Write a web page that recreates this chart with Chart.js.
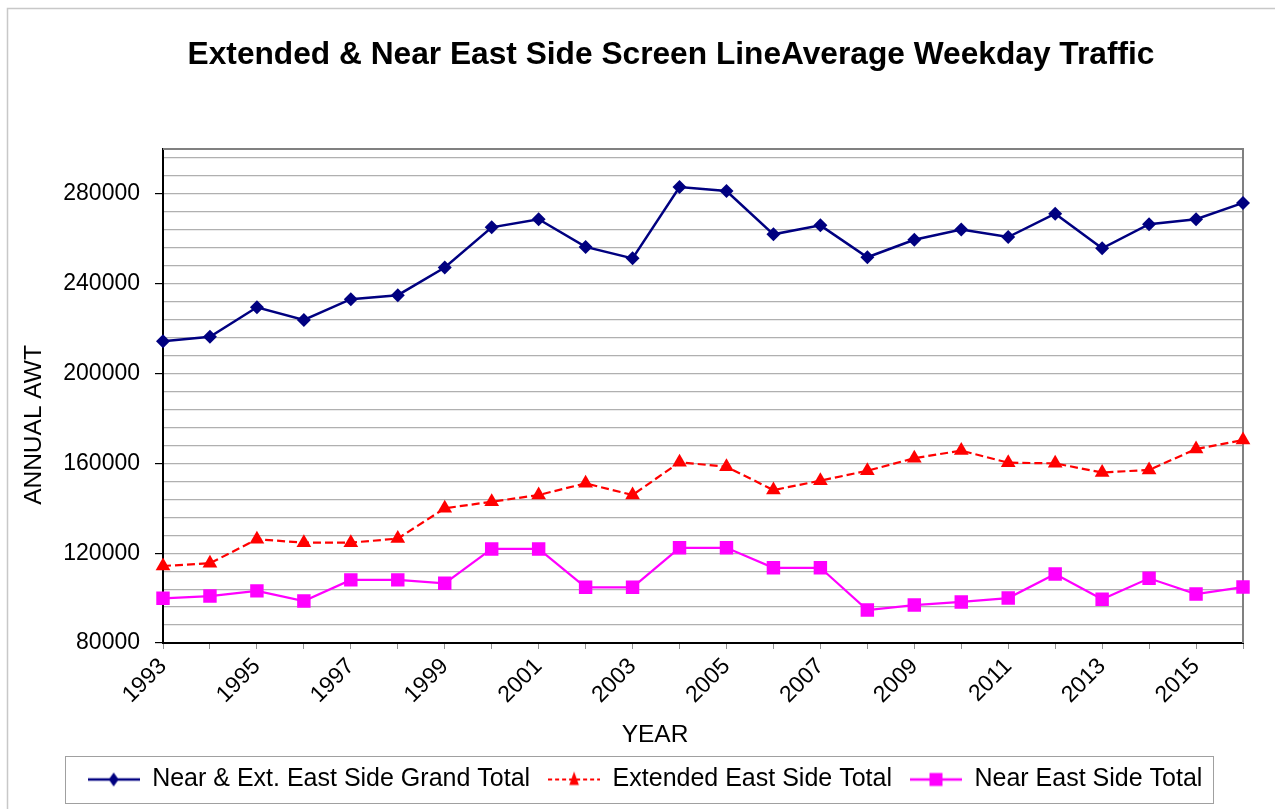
<!DOCTYPE html>
<html>
<head>
<meta charset="utf-8">
<script src="https://cdn.jsdelivr.net/npm/chart.js@4/dist/chart.umd.min.js"></script>
<style>
html,body{margin:0;padding:0;background:#fff;}
canvas{display:block;}
</style>
</head>
<body>
<canvas id="c" width="1275" height="809"></canvas>
<script>
const years = ['1993','1994','1995','1996','1997','1998','1999','2000','2001','2002','2003','2004','2005','2006','2007','2008','2009','2010','2011','2012','2013','2014','2015','2016'];
const grandTotal = [214400,216400,229500,223900,233100,234900,247200,265100,268700,256400,251300,283100,281300,262000,266000,251800,259600,264100,260800,271200,255800,266500,268700,276000];
const extendedTotal = [114300,115500,126200,124700,124700,126500,140000,142900,145900,151100,145900,160500,158500,148100,152300,156700,162300,165700,160300,160000,155900,157100,166400,170400];
const nearTotal = [99900,100900,103200,98700,108100,108100,106600,121900,121900,104800,104800,122400,122400,113500,113500,94700,96900,98300,100000,110700,99500,108800,101800,104900];
const yLabelValues = [80000,120000,160000,200000,240000,280000];
const yMin = 80000, yMax = 300000, yMinorStep = 8000;
const seriesNames = ['Near & Ext. East Side Grand Total','Extended East Side Total','Near East Side Total'];
const chartTitle = 'Extended & Near East Side Screen LineAverage Weekday Traffic';
const xTitle = 'YEAR';
const yTitle = 'ANNUAL AWT';

const FONT = "'Liberation Sans', Arial, sans-serif";

function sample(color, dash, style, r, lw) {
  const c = document.createElement('canvas');
  c.width = 52; c.height = 18;
  const g = c.getContext('2d');
  g.strokeStyle = color; g.lineWidth = lw;
  g.setLineDash(dash);
  g.beginPath(); g.moveTo(0, 9); g.lineTo(52, 9); g.stroke();
  g.setLineDash([]);
  g.fillStyle = color;
  g.beginPath();
  if (style === 'diamond') { g.moveTo(26, 9 - r); g.lineTo(26 + r*0.7, 9); g.lineTo(26, 9 + r); g.lineTo(26 - r*0.7, 9); }
  else if (style === 'triangle') { g.moveTo(26, 9 - r); g.lineTo(26 + r*0.6, 9 + r*0.7); g.lineTo(26 - r*0.6, 9 + r*0.7); }
  else { g.rect(26 - r, 9 - r, 2*r, 2*r); }
  g.closePath(); g.fill();
  return c;
}
const legendImgs = [
  sample('#000080', [], 'diamond', 7, 2.5),
  sample('#FF0000', [4,3], 'triangle', 8, 2),
  sample('#FF00FF', [], 'rect', 6.5, 2.5)
];

const framePlugin = {
  id: 'frame',
  beforeDraw(chart) {
    const ctx = chart.ctx;
    ctx.save();
    ctx.fillStyle = '#fff';
    ctx.fillRect(0, 0, chart.width, chart.height);
    ctx.strokeStyle = '#c8c8c8';
    ctx.lineWidth = 1.5;
    ctx.strokeRect(7.5, 8.5, 1400, 1000);
    ctx.restore();
  },
  beforeDatasetsDraw(chart) {
    const a = chart.chartArea, ctx = chart.ctx;
    ctx.save();
    ctx.strokeStyle = '#808080';
    ctx.lineWidth = 2;
    ctx.beginPath();
    ctx.moveTo(a.left, a.top); ctx.lineTo(a.right, a.top); ctx.lineTo(a.right, a.bottom);
    ctx.stroke();
    ctx.restore();
  },
  afterDraw(chart) {
    const ctx = chart.ctx;
    const a = chart.chartArea;
    ctx.save();
    ctx.fillStyle = '#000';
    ctx.textAlign = 'center';
    ctx.textBaseline = 'alphabetic';
    ctx.font = 'bold 31.7px ' + FONT;
    ctx.fillText(chartTitle, 671, 64);
    ctx.font = '24.5px ' + FONT;
    ctx.fillText(xTitle, (a.left + a.right) / 2 - 48, 742);
    ctx.translate(34, (a.top + a.bottom) / 2 + 29);
    ctx.rotate(-Math.PI / 2);
    ctx.textBaseline = 'middle';
    ctx.fillText(yTitle, 0, 0);
    ctx.restore();

    const lg = chart.legend;
    if (!lg || !lg.legendHitBoxes || !lg.legendHitBoxes.length) return;
    const hb = lg.legendHitBoxes;
    let l = Infinity, r = -Infinity, t = Infinity, b = -Infinity;
    hb.forEach(h => { l = Math.min(l, h.left); r = Math.max(r, h.left + h.width); t = Math.min(t, h.top); b = Math.max(b, h.top + h.height); });
    ctx.save();
    ctx.strokeStyle = '#a0a0a0';
    ctx.lineWidth = 1;
    ctx.strokeRect(Math.round(l - 23) + 0.5, Math.round(t - 11) + 0.5, Math.round(r - l + 33), Math.round(b - t + 22));
    ctx.restore();
  }
};

new Chart(document.getElementById('c'), {
  type: 'line',
  data: {
    labels: years,
    datasets: [
      { label: seriesNames[0], data: grandTotal, borderColor: '#000080', backgroundColor: '#000080', borderWidth: 2.5, pointStyle: 'rectRot', pointRadius: 7, pointHoverRadius: 7, pointBorderWidth: 0, tension: 0 },
      { label: seriesNames[1], data: extendedTotal, borderColor: '#FF0000', backgroundColor: '#FF0000', borderWidth: 2.2, borderDash: [8,4], pointStyle: 'triangle', pointRadius: 8.5, pointHoverRadius: 8.5, pointBorderWidth: 0, tension: 0 },
      { label: seriesNames[2], data: nearTotal, borderColor: '#FF00FF', backgroundColor: '#FF00FF', borderWidth: 2.2, pointStyle: 'rect', pointRadius: 9.5, pointHoverRadius: 9.5, pointBorderWidth: 0, tension: 0 }
    ]
  },
  options: {
    responsive: false,
    animation: false,
    devicePixelRatio: 1,
    layout: { padding: { left: 17, top: 149, right: 2, bottom: 7 } },
    plugins: {
      tooltip: { enabled: false },
      title: { display: false },
      legend: {
        position: 'bottom',
        labels: {
          color: '#000',
          font: { family: FONT, size: 25 },
          usePointStyle: true,
          pointStyleWidth: 52,
          boxHeight: 18,
          padding: 18,
          generateLabels(chart) {
            return chart.data.datasets.map((ds, i) => ({
              text: ds.label, pointStyle: legendImgs[i], fillStyle: ds.borderColor, strokeStyle: ds.borderColor, lineWidth: 0, datasetIndex: i, fontColor: '#000', hidden: false
            }));
          }
        }
      }
    },
    scales: {
      x: {
        type: 'category',
        offset: false,
        afterFit(scale) { scale.height = 106; },
        grid: { display: true, drawOnChartArea: false, drawTicks: true, tickLength: 6, tickColor: '#909090' },
        border: { display: true, color: '#000', width: 2 },
        ticks: {
          autoSkip: false, maxRotation: 45, minRotation: 45, padding: 4,
          color: '#000', font: { family: FONT, size: 23 },
          callback(v, i) { return i % 2 === 0 ? years[i] : ''; }
        },
        title: { display: false }
      },
      y: {
        min: yMin, max: yMax,
        afterFit(scale) { scale.width = 146; },
        afterBuildTicks(scale) {
          const t = [];
          for (let v = yMin; v < yMax; v += yMinorStep) t.push({ value: v });
          t.push({ value: yMax });
          scale.ticks = t;
        },
        grid: {
          color: '#b0b0b0',
          lineWidth: 1.2,
          drawTicks: true,
          tickLength: 8,
          tickColor: (c) => (c.tick && yLabelValues.includes(c.tick.value)) ? '#000' : 'rgba(0,0,0,0)'
        },
        border: { display: true, color: '#000', width: 2 },
        ticks: {
          autoSkip: false,
          padding: 15, color: '#000', font: { family: FONT, size: 23 },
          callback(v) { return yLabelValues.includes(v) ? String(v) : ''; }
        },
        title: { display: false }
      },
      yRight: {
        position: 'right',
        display: true,
        afterFit(scale) { scale.width = 30; },
        grid: { display: false, drawOnChartArea: false, drawTicks: false },
        border: { display: false },
        ticks: { display: false }
      }
    }
  },
  plugins: [framePlugin]
});
</script>
</body>
</html>
